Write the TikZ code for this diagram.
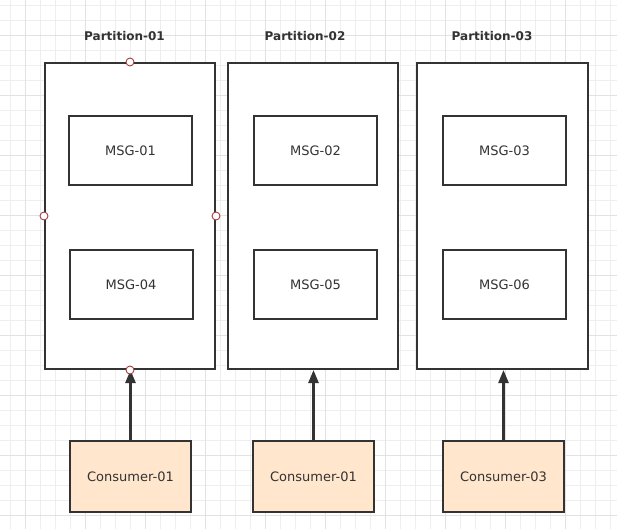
\documentclass[tikz,border=0pt]{standalone}
\usepackage{fontspec}
\setmainfont{DejaVu Sans}
\usetikzlibrary{arrows.meta}
\definecolor{ink}{HTML}{333333}
\definecolor{peach}{HTML}{FFE6CC}
\definecolor{gridminor}{HTML}{EEEEEE}
\definecolor{gridmajor}{HTML}{E2E2E2}
\definecolor{handlered}{HTML}{A04040}

\begin{document}
\begin{tikzpicture}
[x=1pt, y=-1pt,
% Partition style
	partition/.style={
		draw=ink,
		fill=white,
		line width=2pt,
		minimum width=170pt,
		minimum height=306pt,
		inner sep=0pt},
% Message style
	msg/.style={
		draw=ink,
		fill=white,
		line width=2pt,
		text=ink,
		font=\fontsize{13}{15}\selectfont,
		minimum width=123pt,
		minimum height=69pt,
		inner sep=0pt},
% Consumer style
	consumer/.style={
		msg,
		fill=peach,
		minimum width=121pt,
		minimum height=71pt},
% Title style
	title/.style={
		text=ink,
		font=\fontsize{12}{14}\selectfont\bfseries},
% Handle style
	handle/.style={
		circle,
		draw=handlered,
		fill=white,
		line width=0.9pt,
		minimum size=8pt,
		inner sep=0pt},
% Arrow style
	arrowline/.style={
		draw=ink,
		line width=2.4pt,
		-{Triangle[length=13pt,width=10pt]}},
]

% Background grid
\useasboundingbox (0,0) rectangle (617,529);
\fill[white] (0,0) rectangle (617,529);
\foreach \x in {10,25,...,610}
	\draw[gridminor, line width=0.8pt] (\x,0) -- (\x,529);
\foreach \y in {5,20,...,525}
	\draw[gridminor, line width=0.8pt] (0,\y) -- (617,\y);
\foreach \x in {25,85,...,610}
	\draw[gridmajor, line width=0.8pt] (\x,0) -- (\x,529);
\foreach \y in {35,95,...,525}
	\draw[gridmajor, line width=0.8pt] (0,\y) -- (617,\y);

% Partitions
\node[partition] (p1) at (130,216) {};
\node[partition] (p2) at (313,216) {};
\node[partition, minimum width=171pt] (p3) at (502.5,216) {};

\node[title] (t1) at (124.5,36) {Partition-01};
\node[title] (t2) at (305,36) {Partition-02};
\node[title] (t3) at (492,36) {Partition-03};

% Messages
\node[msg] (m1) at (130.5,150.5) {MSG-01};
\node[msg] (m4) at (131,284.5) {MSG-04};
\node[msg] (m2) at (315.5,150.5) {MSG-02};
\node[msg] (m5) at (315.5,284.5) {MSG-05};
\node[msg] (m3) at (504.5,150.5) {MSG-03};
\node[msg] (m6) at (504.5,284.5) {MSG-06};

% Consumers
\node[consumer] (c1) at (130.5,476.5) {Consumer-01};
\node[consumer] (c2) at (313.5,476.5) {Consumer-01};
\node[consumer] (c3) at (503.5,476.5) {Consumer-03};

% Arrows
\draw[arrowline] (c1.north) -- (c1.north |- p1.south);
\draw[arrowline] (c2.north) -- (c2.north |- p2.south);
\draw[arrowline] (c3.north) -- (c3.north |- p3.south);

% Selection handles
\node[handle] (h1) at (p1.north) {};
\node[handle] (h2) at (p1.west) {};
\node[handle] (h3) at (p1.east) {};
\node[handle] (h4) at (p1.south) {};

\end{tikzpicture}
\end{document}
